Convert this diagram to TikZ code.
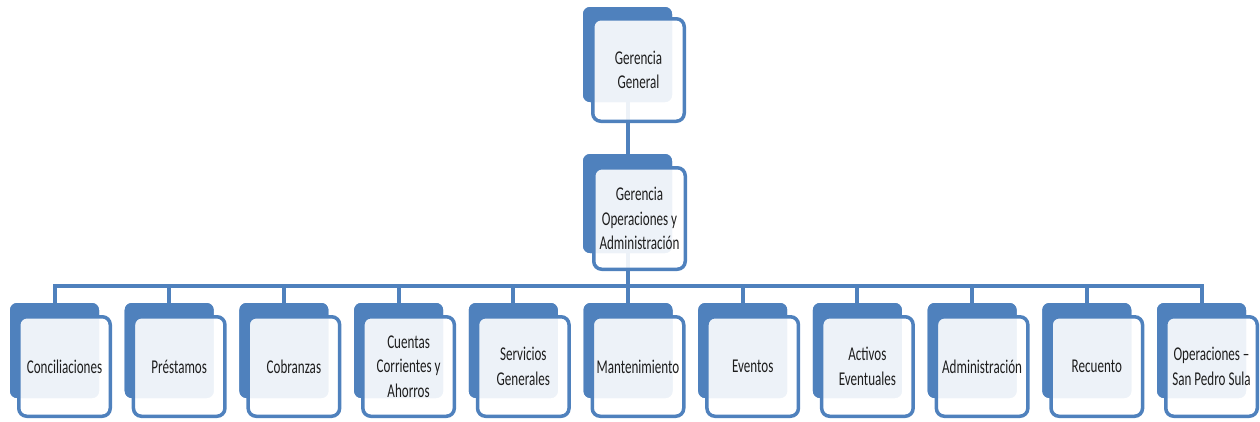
\documentclass[tikz,border=0pt]{standalone}
\usepackage{fontspec}
\setmainfont{Carlito}[FakeStretch=0.67]
\definecolor{obl}{HTML}{4F81BD}
\definecolor{txt}{HTML}{1E1E1E}
\begin{document}
\begin{tikzpicture}[x=1pt,y=-1pt,
  backbox/.style={fill=obl,draw=none,rounded corners=7pt,minimum width=89pt,minimum height=95pt,inner sep=0pt},
  frontbox/.style={draw=obl,line width=3.5pt,fill=white,fill opacity=0.9,text opacity=1,rounded corners=8pt,
    minimum width=91.5pt,minimum height=99.5pt,inner sep=0pt,align=center,text=txt,
    font=\fontsize{19.5pt}{24.5pt}\selectfont},
  conn/.style={draw=obl,line width=4pt}]
\useasboundingbox (0,0) rectangle (1260,421);
% back boxes of the two top levels
\node[backbox] (topback) at (627.5,54.5) {};
\node[backbox,minimum height=99pt] (secback) at (627.5,203.5) {};
\coordinate (bus) at (627.5,286);
% connectors (behind)
\draw[conn] (topback.center) -- (secback.center);
\draw[conn] (secback.center) -- (bus);
\foreach \i in {0,...,10}{
  \pgfmathsetmacro{\cx}{54.5+114.7*\i}
  \node[backbox] (cback\i) at (\cx,350.5) {};
  \draw[conn] (bus) -| (cback\i.north);
}
% redraw the back boxes over the drops
\foreach \i in {0,...,10}{
  \pgfmathsetmacro{\cx}{54.5+114.7*\i}
  \node[backbox] at (\cx,350.5) {};
}
\node[backbox] at (627.5,54.5) {};
\node[backbox,minimum height=99pt] at (627.5,203.5) {};
% front boxes
\node[frontbox,minimum height=102.5pt] (top) at (638.5,70) {Gerencia\\General};
\node[frontbox,minimum width=91.5pt,minimum height=101.5pt] (sec) at (639.5,218.5) {Gerencia\\Operaciones y\\Administración};
\foreach \i/\t in {0/Conciliaciones,1/Préstamos,2/Cobranzas,3/{Cuentas\\Corrientes y\\Ahorros},
  4/{Servicios\\Generales},5/Mantenimiento,6/Eventos,7/{Activos\\Eventuales},8/Administración,
  9/Recuento,10/{Operaciones –\\San Pedro Sula}}{
  \pgfmathsetmacro{\cx}{64.5+114.7*\i}
  \node[frontbox] (child\i) at (\cx,366.5) {\t};
}
\end{tikzpicture}
\end{document}
